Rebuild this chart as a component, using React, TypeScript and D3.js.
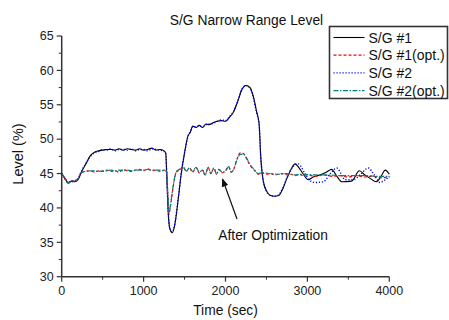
import * as d3 from 'd3';

type Pt = [number, number];

const TITLE = 'S/G Narrow Range Level';
const X_LABEL = 'Time (sec)';
const Y_LABEL = 'Level (%)';
const X_TICKS = [0, 1000, 2000, 3000, 4000];
const Y_TICKS = [30, 35, 40, 45, 50, 55, 60, 65];
const SERIES_NAMES = ['S/G #1', 'S/G #1(opt.)', 'S/G #2', 'S/G #2(opt.)'];

// time (s), level (%)
const sg1: Pt[] = [
  [0, 45], [40, 44.3], [80, 43.6], [120, 43.9], [160, 43.8], [200, 44.1], [240, 45.2],
  [300, 46.5], [350, 47.6], [400, 48.1], [450, 48.3], [500, 48.4], [550, 48.5], [600, 48.5],
  [650, 48.4], [700, 48.6], [750, 48.4], [800, 48.6], [850, 48.5], [900, 48.4], [950, 48.6],
  [1000, 48.4], [1050, 48.5], [1100, 48.7], [1150, 48.4], [1200, 48.5], [1250, 48.3],
  [1270, 48.0], [1285, 44], [1300, 39.5], [1320, 37.0], [1350, 36.4], [1380, 37.5],
  [1420, 41], [1460, 45], [1500, 48], [1540, 50.4], [1570, 51.0], [1600, 51.9], [1640, 51.7],
  [1680, 52.0], [1720, 51.7], [1760, 52.2], [1800, 52.1], [1850, 52.4], [1900, 52.6],
  [1950, 52.7], [2000, 52.6], [2050, 53.2], [2100, 54.0], [2150, 55.5], [2200, 57.2],
  [2250, 57.8], [2300, 57.5], [2340, 56.2], [2380, 54.0], [2410, 52.3], [2430, 47.5],
  [2460, 44.0], [2500, 42.5], [2550, 41.8], [2600, 41.7], [2650, 41.8], [2700, 42.8],
  [2750, 44.3], [2800, 45.6], [2850, 46.4], [2900, 45.8], [2950, 44.9], [3010, 44.1],
  [3070, 44.5], [3150, 44.8], [3230, 45.2], [3295, 45.6], [3360, 44.6], [3420, 43.8],
  [3540, 43.9], [3635, 45.4], [3700, 44.8], [3765, 44.3], [3840, 43.8], [3900, 44.6],
  [3950, 45.5], [4000, 44.9],
];

const sg2: Pt[] = [
  [0, 45], [40, 44.2], [80, 43.7], [120, 43.8], [160, 43.9], [200, 44.2], [240, 45.3],
  [300, 46.6], [350, 47.5], [400, 48.0], [450, 48.2], [500, 48.5], [550, 48.4], [600, 48.6],
  [650, 48.3], [700, 48.5], [750, 48.5], [800, 48.4], [850, 48.6], [900, 48.3], [950, 48.5],
  [1000, 48.5], [1050, 48.3], [1100, 48.6], [1150, 48.5], [1200, 48.4], [1250, 48.2],
  [1270, 47.9], [1285, 44], [1300, 39.6], [1320, 37.1], [1350, 36.5], [1380, 37.6],
  [1420, 41.1], [1460, 45.1], [1500, 48], [1540, 50.3], [1570, 51.1], [1600, 51.8], [1640, 51.8],
  [1680, 51.9], [1720, 51.8], [1760, 52.1], [1800, 52.2], [1850, 52.3], [1900, 52.6],
  [1950, 52.8], [2000, 52.7], [2050, 53.3], [2100, 54.1], [2150, 55.6], [2200, 57.3],
  [2250, 57.8], [2300, 57.4], [2340, 56.0], [2380, 53.8], [2410, 52.2], [2430, 47.4],
  [2460, 44.0], [2500, 42.4], [2550, 41.8], [2600, 41.7], [2650, 41.9], [2700, 42.9],
  [2750, 44.4], [2800, 45.6], [2850, 46.3], [2890, 46.4], [2970, 45.0], [3030, 44.0],
  [3095, 43.7], [3195, 43.8], [3280, 45.0], [3360, 45.8], [3410, 45.0], [3460, 44.1],
  [3560, 44.1], [3650, 44.9], [3745, 45.8], [3810, 44.9], [3885, 43.7], [3940, 44.0],
  [4000, 44.6],
];

const sg1opt: Pt[] = [
  [0, 45], [40, 44.3], [80, 43.7], [120, 44.0], [160, 43.9], [200, 44.2], [230, 45.0],
  [280, 45.3], [350, 45.4], [400, 45.2], [450, 45.4], [500, 45.3], [550, 45.5], [600, 45.3],
  [650, 45.4], [700, 45.2], [750, 45.6], [800, 45.4], [850, 45.3], [900, 45.5], [950, 45.6],
  [1000, 45.4], [1050, 45.7], [1100, 45.4], [1150, 45.5], [1200, 45.3], [1250, 45.5],
  [1280, 45.3], [1295, 42], [1310, 39.1], [1330, 40.4], [1360, 43], [1400, 45.2],
  [1450, 45.6], [1480, 46.0], [1520, 45.3], [1560, 45.8], [1600, 45.2], [1640, 45.9],
  [1680, 45.1], [1720, 45.5], [1750, 44.8], [1790, 45.9], [1820, 45.0], [1860, 45.8],
  [1890, 44.9], [1920, 45.6], [1960, 45.1], [2000, 45.4], [2040, 46.0], [2070, 45.2],
  [2100, 45.6], [2140, 47.1], [2180, 48.0], [2220, 47.9], [2260, 47.1], [2300, 46.2],
  [2350, 45.5], [2400, 44.9], [2450, 45.1], [2500, 44.9], [2550, 45.0], [2600, 44.8],
  [2650, 44.9], [2700, 45.0], [2750, 44.8], [2800, 44.9], [2850, 44.7], [2900, 44.9],
  [2950, 44.7], [3000, 44.8], [3100, 44.6], [3200, 44.8], [3300, 44.6], [3400, 44.7],
  [3500, 44.5], [3600, 44.7], [3700, 44.5], [3800, 44.6], [3900, 44.4], [4000, 44.4],
];

const sg2opt: Pt[] = [
  [0, 45], [40, 44.3], [80, 43.6], [120, 43.9], [160, 44.0], [200, 44.3], [230, 45.0],
  [280, 45.3], [350, 45.4], [400, 45.4], [450, 45.3], [500, 45.4], [550, 45.4], [600, 45.5],
  [650, 45.4], [700, 45.5], [750, 45.4], [800, 45.5], [850, 45.4], [900, 45.5], [950, 45.5],
  [1000, 45.5], [1050, 45.6], [1100, 45.5], [1150, 45.5], [1200, 45.5], [1250, 45.4],
  [1280, 45.4], [1295, 42.2], [1310, 39.3], [1330, 40.6], [1360, 43.1], [1400, 45.3],
  [1450, 45.7], [1480, 46.0], [1520, 45.4], [1560, 45.8], [1600, 45.3], [1640, 45.9],
  [1680, 45.2], [1720, 45.5], [1750, 44.8], [1790, 45.9], [1820, 45.0], [1860, 45.8],
  [1890, 44.9], [1920, 45.6], [1960, 45.2], [2000, 45.4], [2040, 46.0], [2070, 45.2],
  [2100, 45.6], [2140, 47.0], [2180, 47.8], [2220, 47.8], [2260, 47.2], [2300, 46.3],
  [2350, 45.6], [2400, 45.0], [2450, 45.1], [2550, 45.0], [2650, 44.9], [2750, 45.0],
  [2850, 44.8], [2950, 44.9], [3100, 44.8], [3250, 44.8], [3400, 44.7], [3550, 44.7],
  [3700, 44.7], [3850, 44.6], [4000, 44.6],
];

const FONT = '"Liberation Sans", Arial, sans-serif';

const STYLES = [
  { data: sg1, color: '#000000', dash: 'none', width: 1.1 },
  { data: sg1opt, color: '#ff0000', dash: '3,2', width: 1.2 },
  { data: sg2, color: '#0000ff', dash: '1.2,1.8', width: 1.4 },
  { data: sg2opt, color: '#008080', dash: '5,1.5,1.5,1.5', width: 1.2 },
];

export default function App() {
  const width = 449;
  const height = 320;
  const x = d3.scaleLinear().domain([0, 4000]).range([61.7, 389.3]);
  const y = d3.scaleLinear().domain([30, 65]).range([276.7, 36]);

  const line = d3
    .line<Pt>()
    .x((d) => x(d[0]))
    .y((d) => y(d[1]))
    .curve(d3.curveMonotoneX);

  const xMinor = d3.range(500, 4000, 1000);
  const yMinor = d3.range(32.5, 65, 5);
  const axisColor = '#333';

  // legend position
  const lx = 329.5;
  const ly = 26.5;

  return (
    <svg
      width={width}
      height={height}
      style={{ position: 'absolute', left: 0, top: 0, background: '#fff' }}
      fontFamily={FONT}
    >
      <text x={246.5} y={25} textAnchor='middle' fontSize={13.8} fill='#111'>
        {TITLE}
      </text>

      {/* series */}
      {STYLES.map((s, i) => (
        <path
          key={i}
          d={line(s.data) ?? ''}
          fill='none'
          stroke={s.color}
          strokeWidth={s.width}
          strokeDasharray={s.dash}
        />
      ))}

      {/* axes */}
      <line x1={x(0)} x2={x(0)} y1={y(65)} y2={y(30)} stroke={axisColor} strokeWidth={1.5} />
      <line x1={x(0)} x2={x(4000)} y1={y(30)} y2={y(30)} stroke={axisColor} strokeWidth={1.5} />
      {Y_TICKS.map((t) => (
        <g key={t}>
          <line x1={x(0) - 5} x2={x(0)} y1={y(t)} y2={y(t)} stroke={axisColor} strokeWidth={1.2} />
          <text x={x(0) - 8} y={y(t) + 4.3} textAnchor='end' fontSize={12.5} fill='#222'>
            {t}
          </text>
        </g>
      ))}
      {yMinor.map((t) => (
        <line key={t} x1={x(0) - 3} x2={x(0)} y1={y(t)} y2={y(t)} stroke={axisColor} strokeWidth={1} />
      ))}
      {X_TICKS.map((t) => (
        <g key={t}>
          <line x1={x(t)} x2={x(t)} y1={y(30)} y2={y(30) + 5} stroke={axisColor} strokeWidth={1.2} />
          <text x={x(t)} y={295} textAnchor='middle' fontSize={12.5} fill='#222'>
            {t}
          </text>
        </g>
      ))}
      {xMinor.map((t) => (
        <line key={t} x1={x(t)} x2={x(t)} y1={y(30)} y2={y(30) + 3} stroke={axisColor} strokeWidth={1} />
      ))}

      <text x={225.5} y={315} textAnchor='middle' fontSize={13.8} fill='#111'>
        {X_LABEL}
      </text>
      <text
        transform={`translate(22.5,${154}) rotate(-90)`}
        textAnchor='middle'
        fontSize={14.5}
        fill='#111'
      >
        {Y_LABEL}
      </text>

      {/* annotation */}
      <defs>
        <marker id='arrow' viewBox='0 0 10 10' refX={9} refY={5} markerWidth={7} markerHeight={7} orient='auto'>
          <path d='M0,1 L10,5 L0,9 Z' fill='#111' />
        </marker>
      </defs>
      <line x1={237} y1={219} x2={222.5} y2={179} stroke='#111' strokeWidth={1.2} markerEnd='url(#arrow)' />
      <text x={218.3} y={240.3} fontSize={13.8} fill='#111'>
        After Optimization
      </text>

      {/* legend */}
      <rect x={lx} y={ly} width={118} height={72} fill='#fff' stroke='#333' strokeWidth={1.6} />
      {SERIES_NAMES.map((name, i) => {
        const s = STYLES[i];
        const ry = ly + 11 + i * 17.7;
        return (
          <g key={name}>
            <line
              x1={lx + 4}
              x2={lx + 35}
              y1={ry}
              y2={ry}
              stroke={s.color}
              strokeWidth={s.width}
              strokeDasharray={s.dash}
            />
            <text x={lx + 39} y={ry + 5} fontSize={14} fill='#111'>
              {name}
            </text>
          </g>
        );
      })}
    </svg>
  );
}
